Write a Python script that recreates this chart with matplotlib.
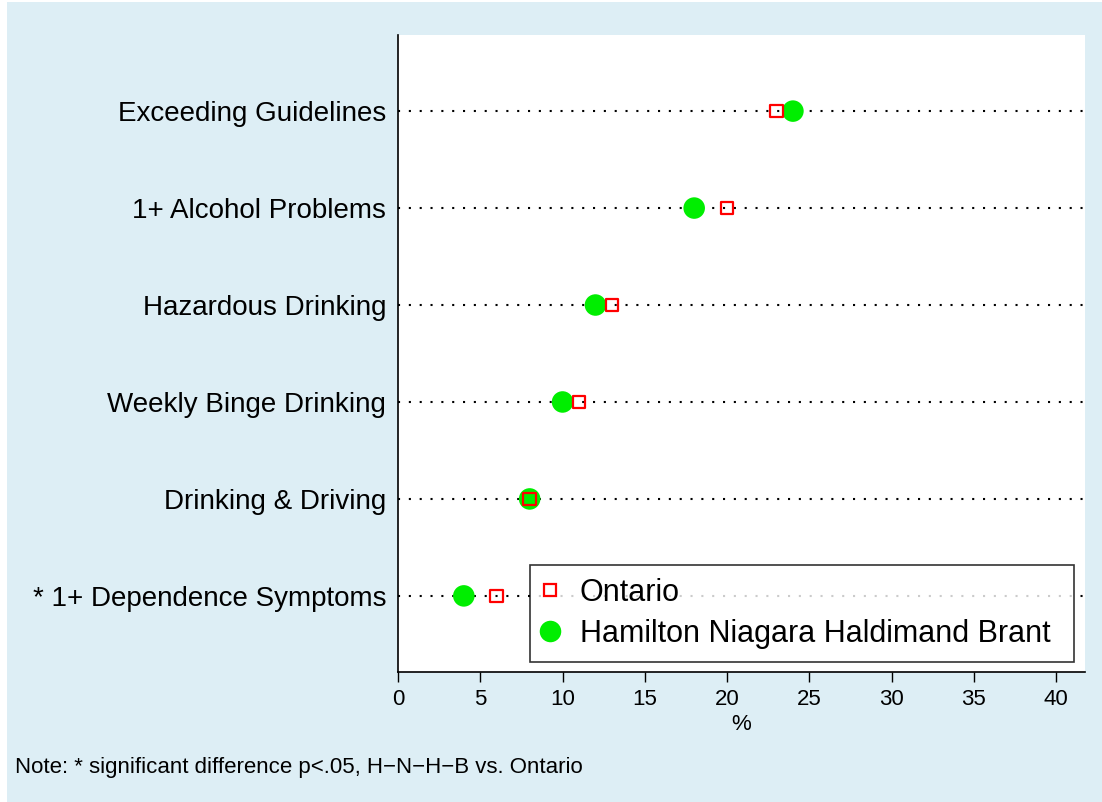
import matplotlib
matplotlib.use("Agg")
import matplotlib.pyplot as plt
from matplotlib.lines import Line2D
from matplotlib.patches import Rectangle

categories = ["Exceeding Guidelines", "1+ Alcohol Problems", "Hazardous Drinking",
              "Weekly Binge Drinking", "Drinking & Driving", "* 1+ Dependence Symptoms"]
ontario = [23, 20, 13, 11, 8, 6]
hnhb = [24, 18, 12, 10, 8, 4]
xticks = [0, 5, 10, 15, 20, 25, 30, 35, 40]

plt.rcParams['font.family'] = ['Liberation Sans', 'DejaVu Sans']

bg = '#ddeef5'
W, H = 1102, 802
fig = plt.figure(figsize=(W/100, H/100), dpi=100, facecolor='white')
fig.patches.append(Rectangle((7/W, 0), 1, 1 - 2/H, transform=fig.transFigure,
                             facecolor=bg, edgecolor='none', zorder=-10))
ax = fig.add_axes([398/W, 1-672/H, (1085-398)/W, (672-35)/H])
ax.set_facecolor('white')

n = len(categories)
ypos = list(range(n))
for y in ypos:
    ax.axhline(y, color='black', linestyle=(0, (1, 4.2)), linewidth=1.5, zorder=1)

ax.scatter(hnhb, ypos, s=15.5**2, color='#00ee00', edgecolors='none', zorder=3,
           label='Hamilton Niagara Haldimand Brant')
ax.scatter(ontario, ypos, s=9**2, marker='s', facecolors='none', edgecolors='#ff0000',
           linewidths=1.6, zorder=4, label='Ontario')

ax.set_xlim(0, 41.75)
ax.set_ylim(n - 1 + 0.785, -0.785)
ax.set_yticks(ypos)
ax.set_yticklabels(categories, fontsize=20)
ax.tick_params(axis='y', length=0, pad=8.5)
ax.set_xticks(xticks)
ax.set_xticklabels([str(t) for t in xticks], fontsize=16)
ax.tick_params(axis='x', length=7, width=1, direction='out', pad=5)
ax.set_xlabel('%', fontsize=16, labelpad=3)

for s in ['top', 'right']:
    ax.spines[s].set_visible(False)
for s in ['left', 'bottom']:
    ax.spines[s].set_linewidth(1.2)

handles = [
    Line2D([], [], marker='s', linestyle='none', markersize=9, markerfacecolor='none',
           markeredgecolor='#ff0000', markeredgewidth=1.6, label='Ontario'),
    Line2D([], [], marker='o', linestyle='none', markersize=15.5, markerfacecolor='#00ee00',
           markeredgecolor='none', label='Hamilton Niagara Haldimand Brant'),
]
leg = ax.legend(handles=handles, loc='lower left',
                bbox_to_anchor=(530/W, 1-662/H, 544/W, 95/H), mode='expand',
                bbox_transform=fig.transFigure, fontsize=22, frameon=True, fancybox=False,
                edgecolor='black', handletextpad=0.75, borderpad=0.42, labelspacing=0.38,
                handlelength=0.46, borderaxespad=0)
leg.get_frame().set_linewidth(1.2)

fig.text(15/W, 1-767/H, 'Note: * significant difference p<.05, H\u2212N\u2212H\u2212B vs. Ontario',
         fontsize=16, va='center', ha='left')

fig.savefig('out.png', dpi=100, facecolor='white')
